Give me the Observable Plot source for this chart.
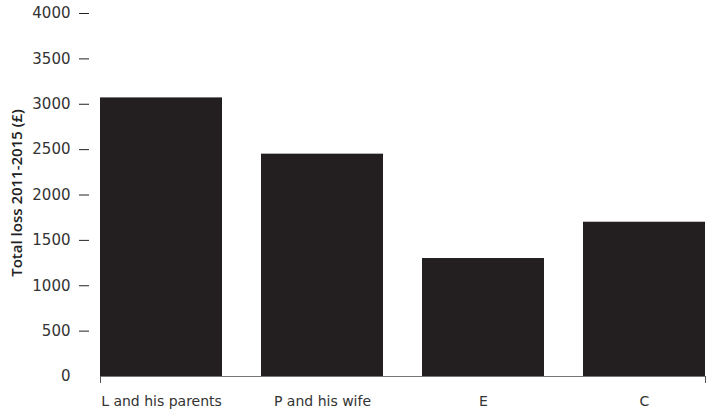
<!DOCTYPE html>
<html><head><meta charset="utf-8">
<script src="https://cdn.jsdelivr.net/npm/d3@7"></script>
<script src="https://cdn.jsdelivr.net/npm/@observablehq/plot@0.6"></script>
<style>body{margin:0;background:#fff}</style>
</head><body><div id="chart"></div>
<script>
const categories = ["L and his parents", "P and his wife", "E", "C"];
const losses = [3070, 2450, 1300, 1700];
const yTicks = [0, 500, 1000, 1500, 2000, 2500, 3000, 3500, 4000];
const yTitle = "Total loss 2011-2015 (£)";

const data = categories.map((c, i) => ({category: c, loss: losses[i]}));

const endTicks = (index, scales, values, dims) => {
  const g = d3.create("svg:g");
  const y0 = dims.height - dims.marginBottom;
  [dims.marginLeft + 0.5, dims.width - dims.marginRight - 0.5].forEach(x =>
    g.append("line").attr("x1", x).attr("x2", x).attr("y1", y0).attr("y2", y0 + 7)
      .attr("stroke", "#555").attr("stroke-width", 1));
  return g.node();
};

const chart = Plot.plot({
  width: 707, height: 411,
  marginLeft: 100, marginRight: 1, marginTop: 13, marginBottom: 35,
  style: {fontFamily: "DejaVu Sans", fontSize: "14px", color: "#333", background: "#fff"},
  x: {domain: categories, paddingInner: 0.24, paddingOuter: 0, align: 0},
  y: {domain: [0, 4000]},
  marks: [
    Plot.ruleY([0], {stroke: "#777", strokeWidth: 1}),
    Plot.barY(data, {x: "category", y: "loss", fill: "#231f20"}),
    endTicks,
    Plot.axisY({ticks: yTicks.filter(d => d > 0), tickSize: 10, dx: -11, tickFormat: () => "", label: null, stroke: "#222"}),
    Plot.axisY({ticks: yTicks, tickSize: 0, tickPadding: 30, tickFormat: d3.format("d"), fontSize: 15, label: null, fill: "#333"}),
    Plot.axisX({tickSize: 0, tickPadding: 20, fontSize: 14, label: null, fill: "#333"}),
    Plot.text([yTitle], {frameAnchor: "left", dx: -83, dy: -2, rotate: -90, textAnchor: "middle", fontFamily: "Open Sans", fontSize: 15, fontWeight: 600, fill: "#222"})
  ]
});
document.getElementById("chart").append(chart);
</script>
</body></html>
